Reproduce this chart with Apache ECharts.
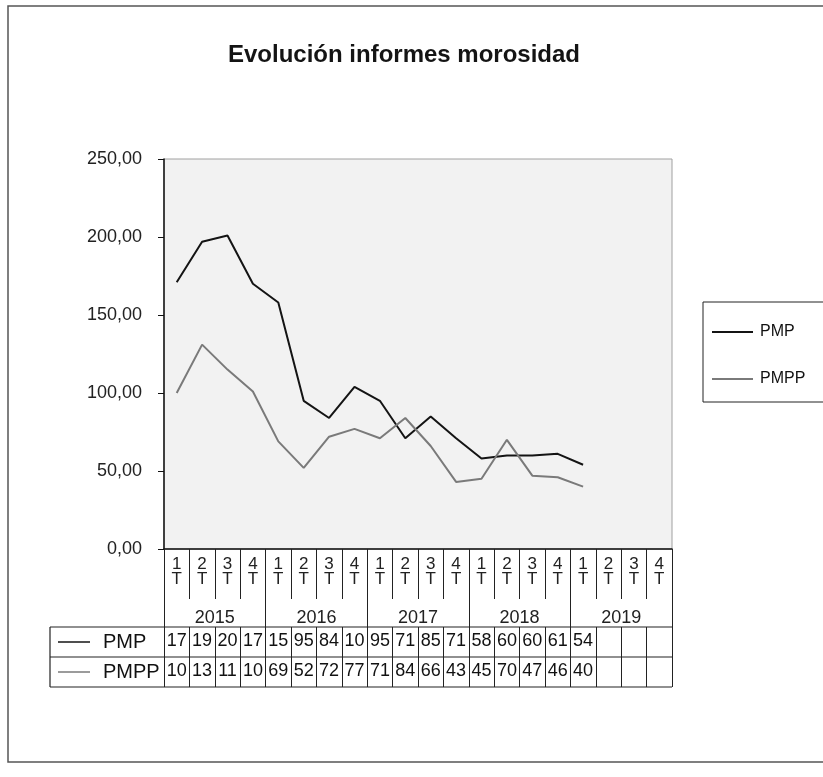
<!DOCTYPE html>
<html>
<head>
<meta charset="utf-8">
<script src="https://cdn.jsdelivr.net/npm/echarts@6/dist/echarts.min.js"></script>
<style>
html,body{margin:0;padding:0;background:#fff;}
#c{width:823px;height:777px;}
</style>
</head>
<body>
<div id="c"></div>
<script>
// ---- data ----
const years = ['2015', '2016', '2017', '2018', '2019'];
const quarterLabels = ['1', '2', '3', '4'];
const seriesNames = ['PMP', 'PMPP'];
const pmp = [171, 197, 201, 170, 158, 95, 84, 104, 95, 71, 85, 71, 58, 60, 60, 61, 54];
const pmpp = [100, 131, 115, 101, 69, 52, 72, 77, 71, 84, 66, 43, 45, 70, 47, 46, 40];
const yTicks = [0, 50, 100, 150, 200, 250];

// categories built from years x quarters
const categories = [];
years.forEach(y => quarterLabels.forEach(q => categories.push(y + '-' + q)));
// data-table cells: Excel truncates the value to the narrow cell
const cell = v => (v == null ? '' : String(Math.floor(v)).slice(0, 2));
const pmpRow = categories.map((c, i) => cell(pmp[i]));
const pmppRow = categories.map((c, i) => cell(pmpp[i]));

// ---- layout ----
const G = { left: 164, top: 159, width: 508, height: 390 };
const gBottom = G.top + G.height;          // 549
const tableTop = gBottom + 78;              // 627
const rowH = 30;
const tableLeft = 50;
const gRight = G.left + G.width;
const FONT = "'Liberation Sans', Arial, sans-serif";
const NARROW = "'Liberation Sans Narrow', 'Liberation Sans', Arial, sans-serif";

const chart = echarts.init(document.getElementById('c'), null, { renderer: 'canvas' });

const baseX = {
  type: 'category',
  gridIndex: 0,
  position: 'bottom',
  boundaryGap: true,
  splitLine: { show: false }
};

const option = {
  backgroundColor: '#ffffff',
  animation: false,
  title: {
    text: 'Evolución informes morosidad',
    left: 399,
    top: 38,
    textAlign: 'center',
    textStyle: { fontSize: 24, fontWeight: 'bold', color: '#141414', fontFamily: FONT }
  },
  legend: {
    data: seriesNames,
    orient: 'vertical',
    left: 703,
    top: 302,
    icon: 'rect',
    itemWidth: 41,
    itemHeight: 2,
    itemGap: 31,
    padding: [22, 22, 15, 9],
    borderColor: '#222',
    borderWidth: 1,
    backgroundColor: '#fff',
    textStyle: { fontSize: 16, color: '#111', fontFamily: FONT, padding: [0, 0, 0, 2] }
  },
  grid: {
    left: G.left, top: G.top, width: G.width, height: G.height,
    show: true,
    backgroundColor: '#f2f2f2',
    borderColor: '#a0a0a0',
    borderWidth: 1,
    containLabel: false
  },
  xAxis: [
    Object.assign({}, baseX, {
      data: categories,
      axisLine: { show: true, lineStyle: { color: '#111', width: 1.5 } },
      axisTick: { show: true, interval: 0, length: 50, lineStyle: { color: '#222', width: 1 } },
      axisLabel: {
        interval: 0, margin: 8, fontSize: 17, lineHeight: 15, color: '#222', fontFamily: FONT,
        formatter: (v, i) => quarterLabels[i % 4] + '\nT'
      }
    }),
    Object.assign({}, baseX, {
      data: years,
      axisLine: { show: false },
      axisTick: { show: true, interval: 0, length: 78, lineStyle: { color: '#222', width: 1 } },
      axisLabel: { interval: 0, margin: 60, fontSize: 18, color: '#222', fontFamily: FONT }
    }),
    Object.assign({}, baseX, {
      data: pmpRow,
      offset: 78,
      axisLine: { show: false },
      axisTick: { show: true, interval: 0, length: rowH * 2, lineStyle: { color: '#222', width: 1 } },
      axisLabel: { interval: 0, margin: 5, fontSize: 18, color: '#111', fontFamily: NARROW }
    }),
    Object.assign({}, baseX, {
      data: pmppRow,
      offset: 78 + rowH,
      axisLine: { show: false },
      axisTick: { show: false },
      axisLabel: { interval: 0, margin: 5, fontSize: 18, color: '#111', fontFamily: NARROW }
    })
  ],
  yAxis: {
    type: 'value',
    min: yTicks[0],
    max: yTicks[yTicks.length - 1],
    interval: yTicks[1] - yTicks[0],
    axisLine: { show: true, lineStyle: { color: '#111', width: 1.5 } },
    axisTick: { show: true, inside: false, length: 6, lineStyle: { color: '#111' } },
    splitLine: { show: false },
    axisLabel: {
      margin: 22, fontSize: 18, color: '#222', fontFamily: FONT,
      formatter: v => v.toFixed(2).replace('.', ',')
    }
  },
  series: [
    {
      name: seriesNames[0], type: 'line', xAxisIndex: 0, data: pmp,
      symbol: 'none', itemStyle: { color: '#141414' },
      lineStyle: { color: '#141414', width: 2 }
    },
    {
      name: seriesNames[1], type: 'line', xAxisIndex: 0, data: pmpp,
      symbol: 'none', itemStyle: { color: '#7a7a7a' },
      lineStyle: { color: '#7a7a7a', width: 2 }
    }
  ],
  graphic: [
    // outer frame
    { type: 'rect', shape: { x: 8, y: 6, width: 830, height: 756 },
      style: { fill: 'none', stroke: '#555', lineWidth: 1.5 }, silent: true, z: 0 },
    // data table frame
    { type: 'line', shape: { x1: tableLeft, y1: tableTop, x2: gRight, y2: tableTop },
      style: { stroke: '#222', lineWidth: 1.2 }, z: 10 },
    { type: 'line', shape: { x1: tableLeft, y1: tableTop + rowH, x2: gRight, y2: tableTop + rowH },
      style: { stroke: '#222', lineWidth: 1.2 }, z: 10 },
    { type: 'line', shape: { x1: tableLeft, y1: tableTop + 2 * rowH, x2: gRight, y2: tableTop + 2 * rowH },
      style: { stroke: '#222', lineWidth: 1.2 }, z: 10 },
    { type: 'line', shape: { x1: tableLeft, y1: tableTop, x2: tableLeft, y2: tableTop + 2 * rowH },
      style: { stroke: '#222', lineWidth: 1.2 }, z: 10 },
    // row keys
    { type: 'line', shape: { x1: 58, y1: tableTop + rowH / 2, x2: 90, y2: tableTop + rowH / 2 },
      style: { stroke: '#141414', lineWidth: 1.5 }, z: 10 },
    { type: 'text', x: 103, y: tableTop + rowH / 2,
      style: { text: seriesNames[0], fontSize: 20, fontFamily: FONT, fill: '#111', verticalAlign: 'middle' }, z: 10 },
    { type: 'line', shape: { x1: 58, y1: tableTop + rowH * 1.5, x2: 90, y2: tableTop + rowH * 1.5 },
      style: { stroke: '#7a7a7a', lineWidth: 1.5 }, z: 10 },
    { type: 'text', x: 103, y: tableTop + rowH * 1.5,
      style: { text: seriesNames[1], fontSize: 20, fontFamily: FONT, fill: '#111', verticalAlign: 'middle' }, z: 10 }
  ]
};

chart.setOption(option);
</script>
</body>
</html>
